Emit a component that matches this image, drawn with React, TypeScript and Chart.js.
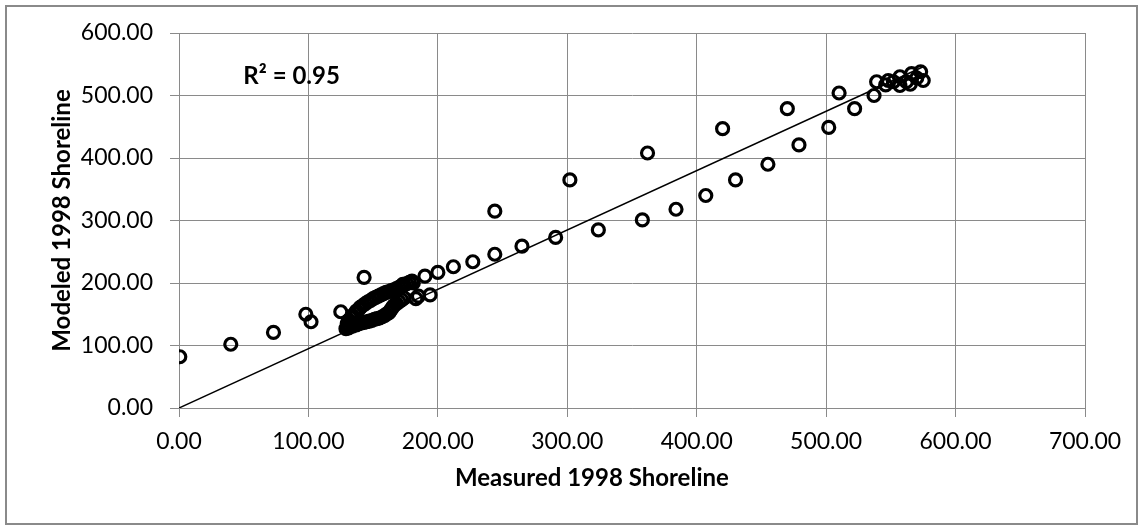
import React, { useEffect, useRef } from 'react';
import { Chart, registerables } from 'chart.js';

Chart.register(...registerables);

// Measured (x) and modeled (y) 1998 shoreline positions
const measured = [
  0.6, 40, 73, 98, 102, 125, 143,
  129, 130, 131, 132, 134, 135, 137, 139, 141, 143, 145, 147, 149, 151, 153, 155, 157, 159, 160, 162, 163, 164, 165, 166, 168, 170, 172, 174,
  130, 131, 133, 134, 136, 137, 139, 140, 142, 144, 146, 148, 150, 152, 154, 156, 158, 160, 162, 164, 166, 168, 170, 172, 174, 176, 178, 180,
  183, 185, 194, 173, 181, 190, 200,
  212, 227, 244, 244, 265, 291, 302, 324, 358, 362, 384, 407, 420, 430, 455,
  470, 479, 502, 510, 522, 537, 539, 546, 548, 552, 557, 557, 562, 565, 566, 570, 573, 575,
];
const modeled = [
  82, 102, 121, 150, 138, 154, 209,
  127, 130, 128, 132, 131, 134, 133, 135, 136, 137, 138, 139, 140, 142, 143, 144, 146, 148, 150, 152, 155, 158, 161, 164, 167, 170, 173, 176,
  135, 140, 144, 148, 151, 155, 158, 161, 164, 167, 170, 172, 175, 177, 179, 181, 183, 185, 186, 188, 189, 191, 193, 195, 197, 199, 201, 203,
  175, 179, 181, 198, 200, 211, 217,
  226, 234, 246, 315, 259, 273, 365, 285, 301, 408, 318, 340, 447, 365, 390,
  479, 421, 449, 504, 479, 500, 522, 517, 524, 522, 530, 516, 522, 518, 535, 528, 538, 524,
];
const trendX = [0, 575];
const trendY = [0, 546];
const xTicks = [0, 100, 200, 300, 400, 500, 600, 700];
const yTicks = [0, 100, 200, 300, 400, 500, 600];
const r2Label = 'R² = 0.95';
const r2At = [87, 530];
const xTitle = 'Measured 1998 Shoreline';
const xTitleAt = 319;
const yTitle = 'Modeled 1998 Shoreline';

const FONT = 'Lato, "Liberation Sans", sans-serif';
const GRID = '#8a8a8a';

export default function App() {
  const ref = useRef<HTMLCanvasElement>(null);
  useEffect(() => {
    document.body.style.margin = '0';
    const annot = {
      id: 'annot',
      afterDraw(chart: any) {
        const c = chart.ctx;
        const xs = chart.scales.x;
        const ys = chart.scales.y;
        c.save();
        c.fillStyle = '#000';
        c.font = `bold 24px ${FONT}`;
        c.textAlign = 'center';
        c.textBaseline = 'middle';
        c.fillText(r2Label, xs.getPixelForValue(r2At[0]), ys.getPixelForValue(r2At[1]));
        c.fillText(xTitle, xs.getPixelForValue(xTitleAt), chart.chartArea.bottom + 70);
        c.restore();
      },
    };
    const chart = new Chart(ref.current!, {
      type: 'scatter',
      data: {
        datasets: [
          {
            label: 'Trend',
            type: 'line',
            data: trendX.map((x, i) => ({ x, y: trendY[i] })),
            borderColor: '#000',
            borderWidth: 1.5,
            pointRadius: 0,
            showLine: true,
            fill: false,
          } as any,
          {
            label: 'Shoreline',
            data: measured.map((x, i) => ({ x, y: modeled[i] })),
            pointStyle: 'circle',
            pointRadius: 6,
            borderWidth: 3.2,
            borderColor: '#000',
            backgroundColor: 'rgba(0,0,0,0)',
          },
        ],
      },
      options: {
        animation: false,
        responsive: false,
        layout: { padding: { top: 33, right: 57, left: 0, bottom: 0 } },
        plugins: { legend: { display: false }, tooltip: { enabled: false } },
        scales: {
          x: {
            type: 'linear',
            min: 0,
            max: 700,
            afterFit: (s: any) => { s.height = 121; },
            afterBuildTicks: (s: any) => { s.ticks = xTicks.map((v) => ({ value: v })); },
            ticks: {
              color: '#000',
              font: { family: FONT, size: 23 },
              padding: 11,
              callback: (v: any) => Number(v).toFixed(2),
            },
            grid: { color: GRID, tickColor: GRID, tickLength: 9, lineWidth: 1 },
            border: { color: GRID, width: 1 },
          },
          y: {
            type: 'linear',
            min: 0,
            max: 600,
            afterFit: (s: any) => { s.width = 179; },
            afterBuildTicks: (s: any) => { s.ticks = yTicks.map((v) => ({ value: v })); },
            ticks: {
              color: '#000',
              font: { family: FONT, size: 23 },
              padding: 17,
              callback: (v: any) => Number(v).toFixed(2),
            },
            grid: { color: GRID, tickColor: GRID, tickLength: 9, lineWidth: 1 },
            border: { color: GRID, width: 1 },
            title: {
              display: true,
              text: yTitle,
              color: '#000',
              font: { family: FONT, size: 24, weight: 'bold' },
              padding: { top: 48, bottom: 0 },
            },
          },
        },
      },
      plugins: [annot],
    });
    return () => chart.destroy();
  }, []);
  return (
    <div style={{ position: 'relative', width: 1142, height: 529, background: '#fff' }}>
      <div
        style={{
          position: 'absolute',
          left: 5,
          top: 5,
          width: 1133,
          height: 520,
          border: `2px solid ${GRID}`,
          boxSizing: 'border-box',
        }}
      />
      <canvas ref={ref} width={1142} height={529} style={{ position: 'absolute', left: 0, top: 0 }} />
    </div>
  );
}
